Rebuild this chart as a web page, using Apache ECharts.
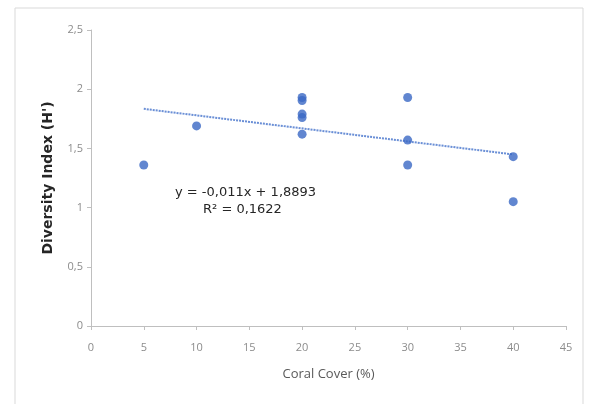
<!DOCTYPE html>
<html><head><meta charset="utf-8">
<script src="https://cdn.jsdelivr.net/npm/echarts@6/dist/echarts.min.js"></script>
<style>html,body{margin:0;padding:0;background:#fff}#c{width:591px;height:404px}</style>
</head><body><div id="c"></div>
<script>
const coralCover = [5, 10, 20, 20, 20, 20, 20, 30, 30, 30, 40, 40];
const diversity  = [1.36, 1.69, 1.93, 1.905, 1.79, 1.76, 1.62, 1.93, 1.57, 1.36, 1.43, 1.05];
const trendX = [5, 40];
const trendY = [1.834, 1.449];
const equationText = 'y = -0,011x + 1,8893';
const r2Text = 'R² = 0,1622';
const fmt = v => String(v).replace('.', ',');

const chart = echarts.init(document.getElementById('c'));
chart.setOption({
  animation: false,
  backgroundColor: '#fff',
  grid: {left: 91, right: 25, top: 30, bottom: 78, containLabel: false},
  xAxis: {
    type: 'value', min: 0, max: 45, interval: 5,
    name: 'Coral Cover (%)', nameLocation: 'middle', nameGap: 42,
    nameTextStyle: {color: '#595959', fontSize: 13, fontFamily: 'Open Sans, sans-serif'},
    axisLine: {show: true, lineStyle: {color: '#bfbfbf', width: 1}},
    axisTick: {show: true, length: 4, lineStyle: {color: '#bfbfbf'}},
    axisLabel: {color: '#8c8c8c', fontSize: 11, margin: 16, fontFamily: 'Open Sans, sans-serif', formatter: fmt},
    splitLine: {show: false}
  },
  yAxis: {
    type: 'value', min: 0, max: 2.5, interval: 0.5,
    name: "Diversity Index (H')", nameLocation: 'middle', nameGap: 36, nameRotate: 90,
    nameTextStyle: {color: '#262626', fontSize: 14, fontWeight: 'bold', fontFamily: 'DejaVu Sans, sans-serif'},
    axisLine: {show: true, lineStyle: {color: '#bfbfbf', width: 1}},
    axisTick: {show: true, length: 4, lineStyle: {color: '#bfbfbf'}},
    axisLabel: {color: '#8c8c8c', fontSize: 11, margin: 8, fontFamily: 'Open Sans, sans-serif', formatter: fmt},
    splitLine: {show: false}
  },
  graphic: [
    {type: 'rect', shape: {x: 15, y: 8, width: 568, height: 410}, style: {fill: 'none', stroke: '#d9d9d9', lineWidth: 1}, silent: true},
    {type: 'text', left: 175, top: 186, style: {text: equationText, fill: '#262626', font: '13px DejaVu Sans, sans-serif'}},
    {type: 'text', left: 203, top: 203, style: {text: r2Text, fill: '#262626', font: '13px DejaVu Sans, sans-serif'}}
  ],
  series: [
    {
      type: 'line', data: trendX.map((x, i) => [x, trendY[i]]),
      symbol: 'none', lineStyle: {color: '#6a8fd6', width: 2, type: [2, 1]}, z: 1
    },
    {
      type: 'scatter', data: coralCover.map((x, i) => [x, diversity[i]]),
      symbolSize: 9, itemStyle: {color: '#3a68c4'}, z: 2
    }
  ]
});
</script></body></html>
